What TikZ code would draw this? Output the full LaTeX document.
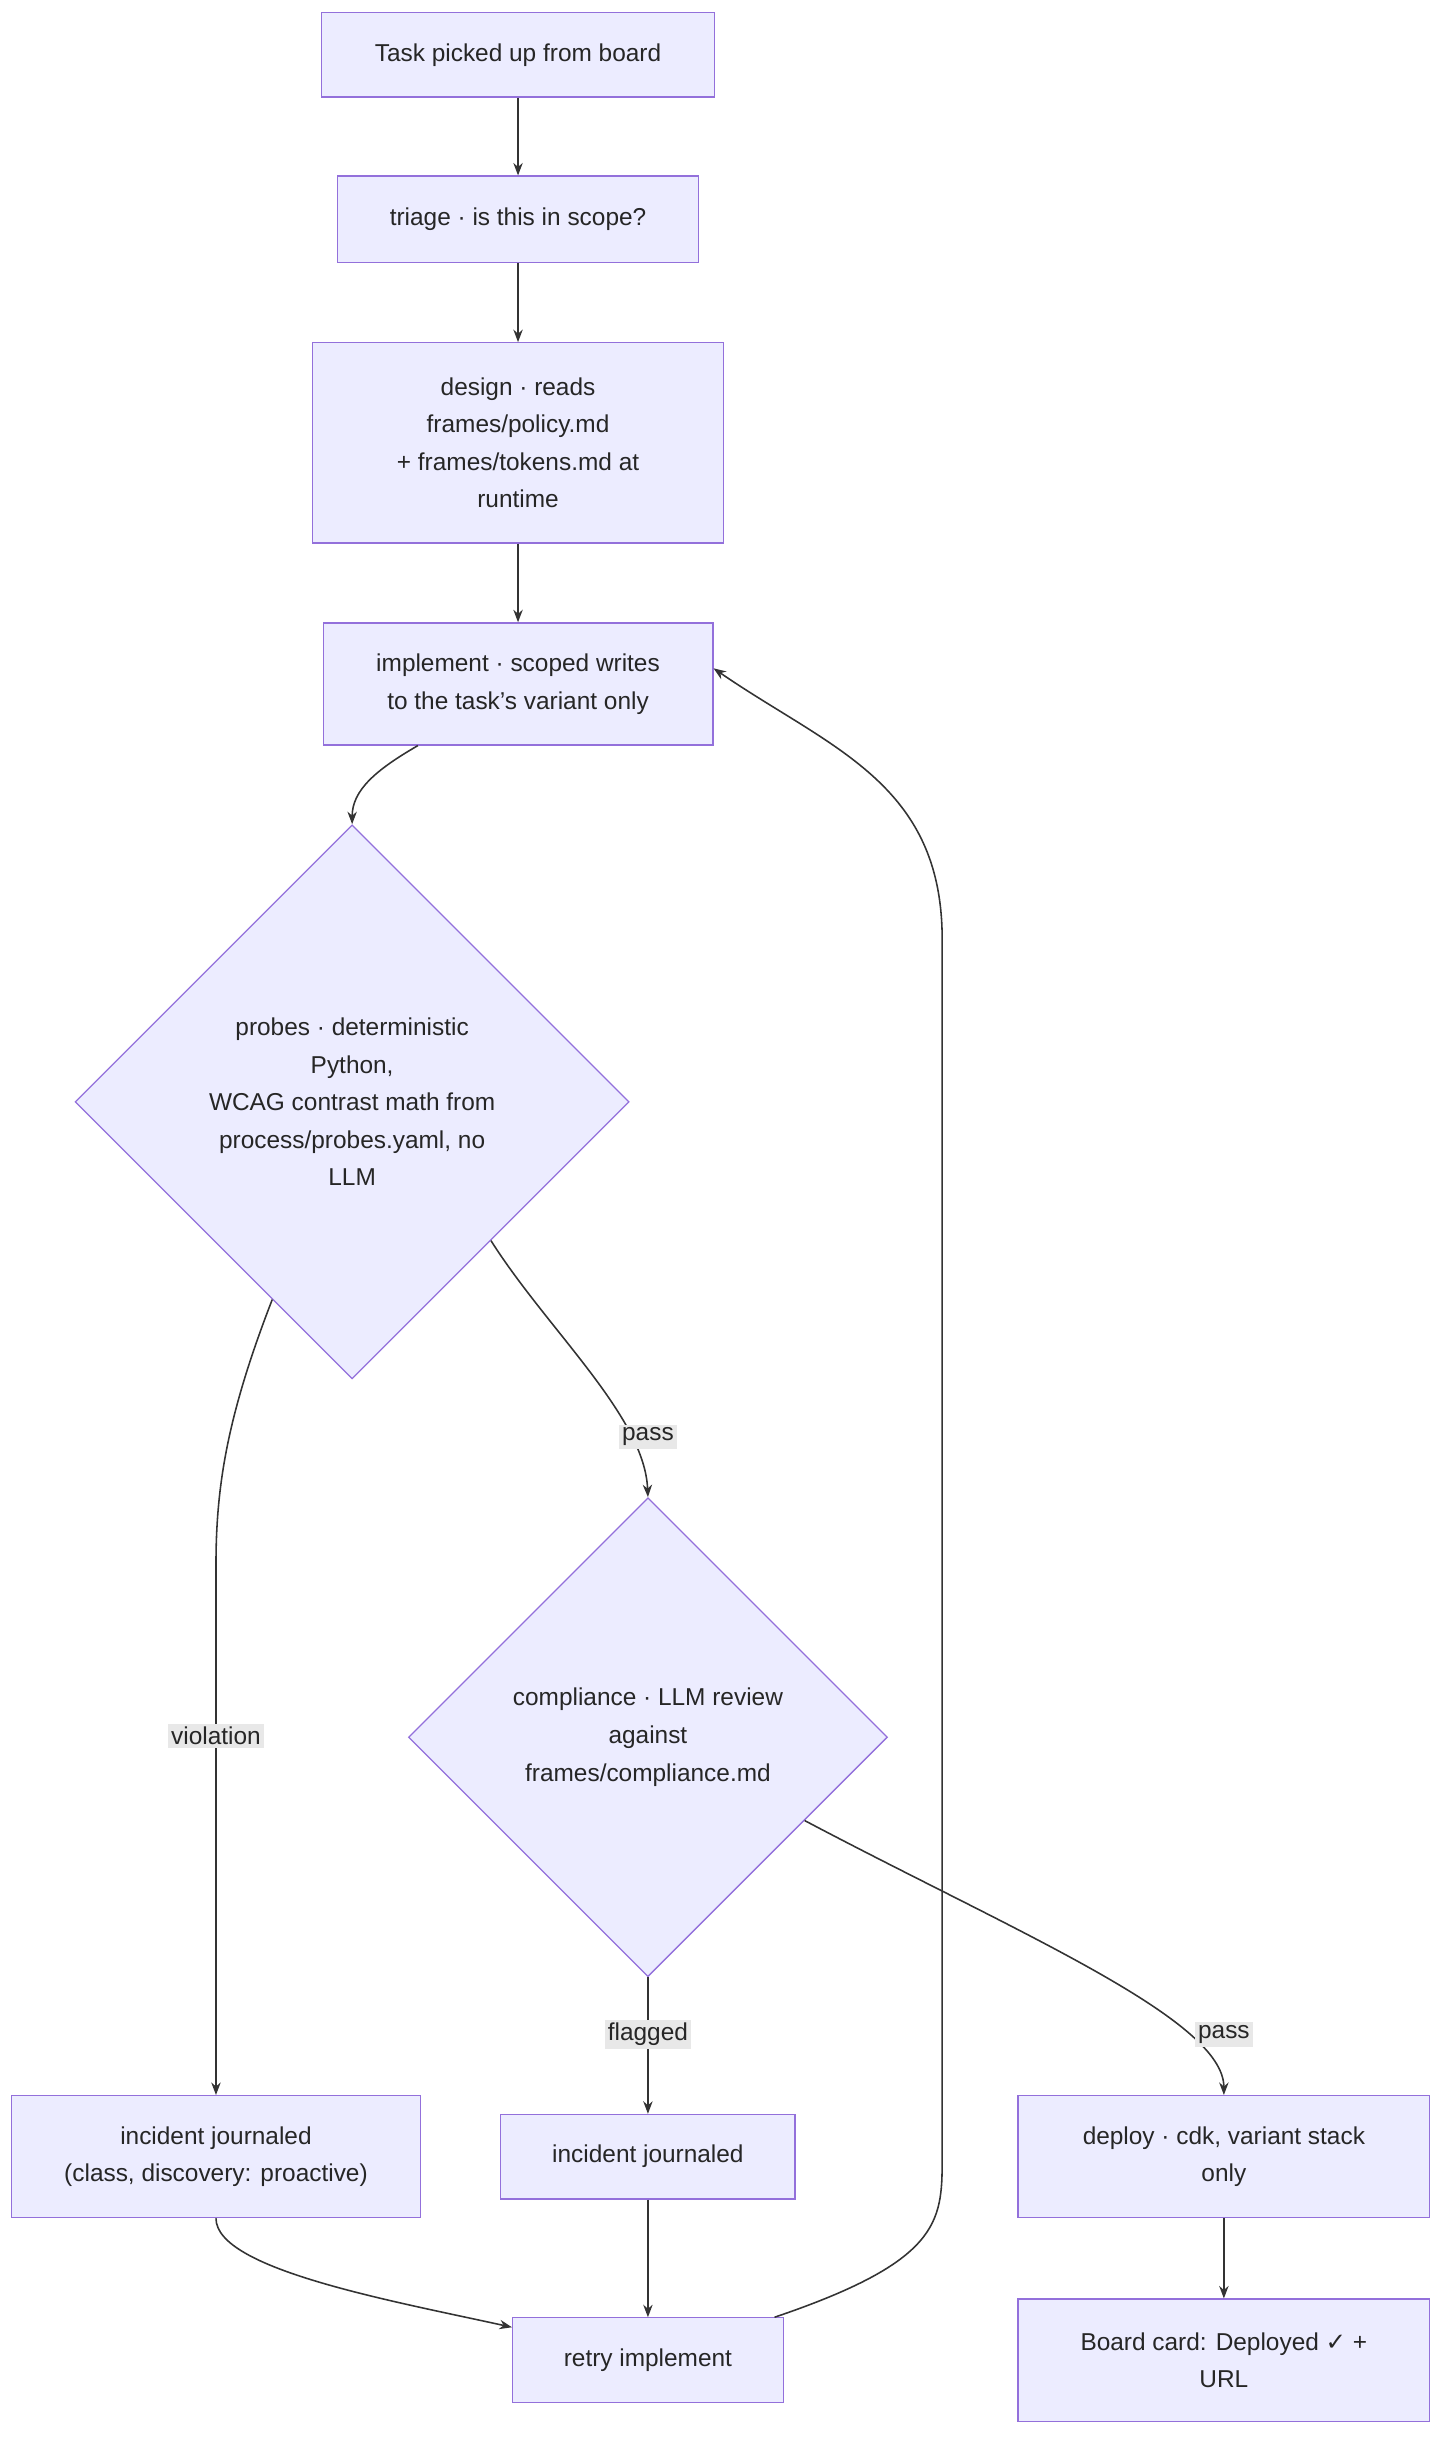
\documentclass[tikz,border=0pt]{standalone}
\usepackage{fontspec}
\setmainfont{Liberation Sans}
\newfontfamily\symfont{DejaVu Sans}
\usetikzlibrary{shapes.geometric,arrows.meta}
\definecolor{nfill}{HTML}{ECECFF}
\definecolor{nline}{HTML}{9370DB}
\definecolor{eline}{HTML}{333333}
\definecolor{lblbg}{HTML}{E8E8E8}
\begin{document}
\begin{tikzpicture}[x=1pt,y=-1pt,
  box/.style={draw=nline,fill=nfill,line width=0.8pt,align=center,inner sep=0pt,font=\fontsize{15.6}{24}\selectfont,text=black!85},
  dia/.style={draw=nline,fill=nfill,line width=0.8pt,diamond,aspect=1,align=center,inner sep=0pt,font=\fontsize{15.6}{24}\selectfont,text=black!85},
  edge/.style={draw=eline,line width=1pt,-{Stealth[length=8pt,width=6pt]}},
  lbl/.style={fill=lblbg,inner sep=2pt,font=\fontsize{15.6}{18}\selectfont,text=black!85}]
\useasboundingbox (0,0) rectangle (930,1568);
\node[box,minimum width=251pt,minimum height=54pt] (A) at (331,35) {Task picked up from board};
\node[box,minimum width=231pt,minimum height=55pt] (B) at (331,140) {triage · is this in scope?};
\node[box,minimum width=263pt,minimum height=128pt] (C) at (331,283) {design · reads\\frames/policy.md\\+ frames/tokens.md at\\runtime};
\node[box,minimum width=249pt,minimum height=78pt] (D) at (331,437) {implement · scoped writes\\to the task's variant only};
\node[dia,minimum width=354pt,minimum height=354pt] (E) at (225,704) {probes · deterministic\\Python,\\WCAG contrast math from\\process/probes.yaml, no\\LLM};
\node[dia,minimum width=306pt,minimum height=306pt] (F) at (414,1110) {compliance · LLM review\\against\\frames/compliance.md};
\node[box,minimum width=261pt,minimum height=78pt] (G) at (138,1378) {incident journaled\\(class, discovery: proactive)};
\node[box,minimum width=188pt,minimum height=54pt] (H) at (414,1378) {incident journaled};
\node[box,minimum width=263pt,minimum height=78pt] (I) at (782,1378) {deploy · cdk, variant stack\\only};
\node[box,minimum width=173pt,minimum height=54pt] (J) at (414,1508) {retry implement};
\node[box,minimum width=263pt,minimum height=78pt] (K) at (782,1508) {Board card: Deployed {\symfont ✓} +\\URL};
\path[edge] (A) -- (B);
\path[edge] (B) -- (C);
\path[edge] (C) -- (D);
\path[edge] ([xshift=-64pt]D.south) .. controls (240,492) and (225,505) .. (E.north);
\path[edge] (E.south east) .. controls (350,850) and (412,905) .. (F.north);
\node[lbl] (Lpass1) at (414,918) {pass};
\path[edge] (E.-112) .. controls (145,905) and (138,950) .. (138,1000) -- (G.north);
\node[lbl] (Lviol) at (138,1109) {violation};
\path[edge] (F.south) -- (H.north);
\node[lbl] (Lflag) at (414,1300) {flagged};
\path[edge] (F.-28) .. controls (650,1235) and (782,1290) .. (I.north);
\node[lbl] (Lpass2) at (782,1300) {pass};
\path[edge] (G.south) .. controls (138,1450) and (250,1470) .. ([yshift=21pt]J.west);
\path[edge] (H) -- (J);
\path[edge] (I) -- (K);
\path[edge] ([xshift=-6pt]J.north east) .. controls (600,1445) and (602,1420) .. (602,1380) -- (602,600) .. controls (602,500) and (530,478) .. ([yshift=10pt]D.east);
\end{tikzpicture}
\end{document}
